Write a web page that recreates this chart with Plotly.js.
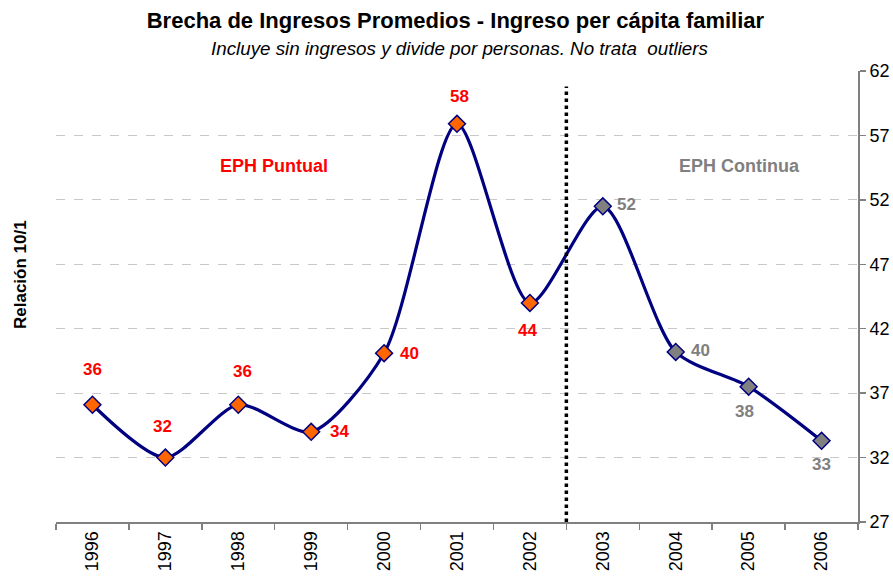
<!DOCTYPE html>
<html>
<head>
<meta charset="utf-8">
<script src="https://cdn.plot.ly/plotly-3.0.1.min.js"></script>
<style>html,body{margin:0;padding:0;background:#fff;}#chart{width:893px;height:576px;}</style>
</head>
<body>
<div id="chart"></div>
<script>
const years = ['1996','1997','1998','1999','2000','2001','2002','2003','2004','2005','2006'];
const values = [36.1, 32.0, 36.1, 34.0, 40.1, 57.9, 44.0, 51.5, 40.2, 37.5, 33.3];
const labels = ['36','32','36','34','40','58','44','52','40','38','33'];
// label placement offsets (px) for the data labels
const labelDx = [0, -3, 4, 28, 25, 2, -2, 24, 25, -4, 0];
const labelDy = [35, 31, 33, 0, 0, 27, -28, 2, 1, -25, -24];
const periodBreak = 6.5; // boundary between 2002 and 2003
const nPuntual = 7;

const fontFam = 'Liberation Sans, Arial, sans-serif';
const orange = '#FF6600', grey = '#808080', navy = '#000080', red = '#FF0000';

const markerColors = values.map((v, i) => i < nPuntual ? orange : grey);

const traces = [{
  type: 'scatter', mode: 'lines+markers',
  x: years, y: values,
  line: {color: navy, width: 3.2, shape: 'spline', smoothing: 0.75},
  marker: {symbol: 'diamond', size: 13, color: markerColors, line: {color: navy, width: 1.5}},
  hoverinfo: 'x+y', showlegend: false
}];

const annotations = values.map((v, i) => ({
  x: i, y: v, xref: 'x', yref: 'y', text: '<b>' + labels[i] + '</b>', showarrow: false,
  xshift: labelDx[i], yshift: labelDy[i],
  font: {family: fontFam, size: 17, color: i < nPuntual ? red : grey}
}));
annotations.push(
  {x: 2.49, y: 54.6, xref: 'x', yref: 'y', text: '<b>EPH Puntual</b>', showarrow: false,
   font: {family: fontFam, size: 18, color: red}},
  {x: 8.87, y: 54.6, xref: 'x', yref: 'y', text: '<b>EPH Continua</b>', showarrow: false,
   font: {family: fontFam, size: 18, color: grey}},
  {x: 20, y: 301, xref: 'paper', yref: 'paper', xanchor: 'center', yanchor: 'middle',
   text: '<b>Relación 10/1</b>', textangle: -90, showarrow: false,
   font: {family: fontFam, size: 17, color: '#000'}},
  {x: 0.5, y: 1, xref: 'paper', yref: 'paper', yanchor: 'middle', yshift: 23, xshift: 2,
   text: '<i>Incluye sin ingresos y divide por personas. No trata  outliers</i>', showarrow: false,
   font: {family: fontFam, size: 18.8, color: '#000'}}
);
// convert the y-title pixel position into paper coordinates
const plotL = 56, plotR = 35, plotT = 71, plotB = 54, W = 893, H = 576;
const yt = annotations[annotations.length - 2];
yt.x = (20 - plotL) / (W - plotL - plotR);
yt.y = (H - plotB - 275) / (H - plotT - plotB);

const layout = {
  width: W, height: H,
  margin: {l: plotL, r: plotR, t: plotT, b: plotB},
  paper_bgcolor: '#fff', plot_bgcolor: '#fff',
  font: {family: fontFam, color: '#000'},
  title: {text: '<b>Brecha de Ingresos Promedios - Ingreso per cápita familiar</b>',
          x: 0.51, xanchor: 'center', y: 0.965, yanchor: 'middle',
          font: {family: fontFam, size: 22, color: '#000'}},
  xaxis: {
    type: 'category', range: [-0.5, 10.5], tickson: 'boundaries',
    ticks: 'outside', ticklen: 6, tickcolor: grey, tickwidth: 1.5,
    showline: true, linecolor: grey, linewidth: 2,
    showgrid: false, zeroline: false, tickangle: -90,
    tickfont: {family: fontFam, size: 18, color: '#000'}
  },
  yaxis: {
    side: 'right', range: [27, 62], tick0: 27, dtick: 5,
    ticks: 'outside', ticklen: 6, tickcolor: grey, tickwidth: 1.5,
    showline: true, linecolor: grey, linewidth: 2,
    showgrid: true, gridcolor: '#C8C8C8', griddash: 'dash', gridwidth: 1,
    zeroline: false,
    tickfont: {family: fontFam, size: 18, color: '#000'}
  },
  shapes: [{
    type: 'line', xref: 'x', yref: 'y', x0: periodBreak, x1: periodBreak, y0: 27, y1: 60.8,
    line: {color: '#000', width: 3.5, dash: 'dot'}
  }],
  annotations: annotations
};

Plotly.newPlot('chart', traces, layout, {displayModeBar: false, staticPlot: true});
</script>
</body>
</html>
